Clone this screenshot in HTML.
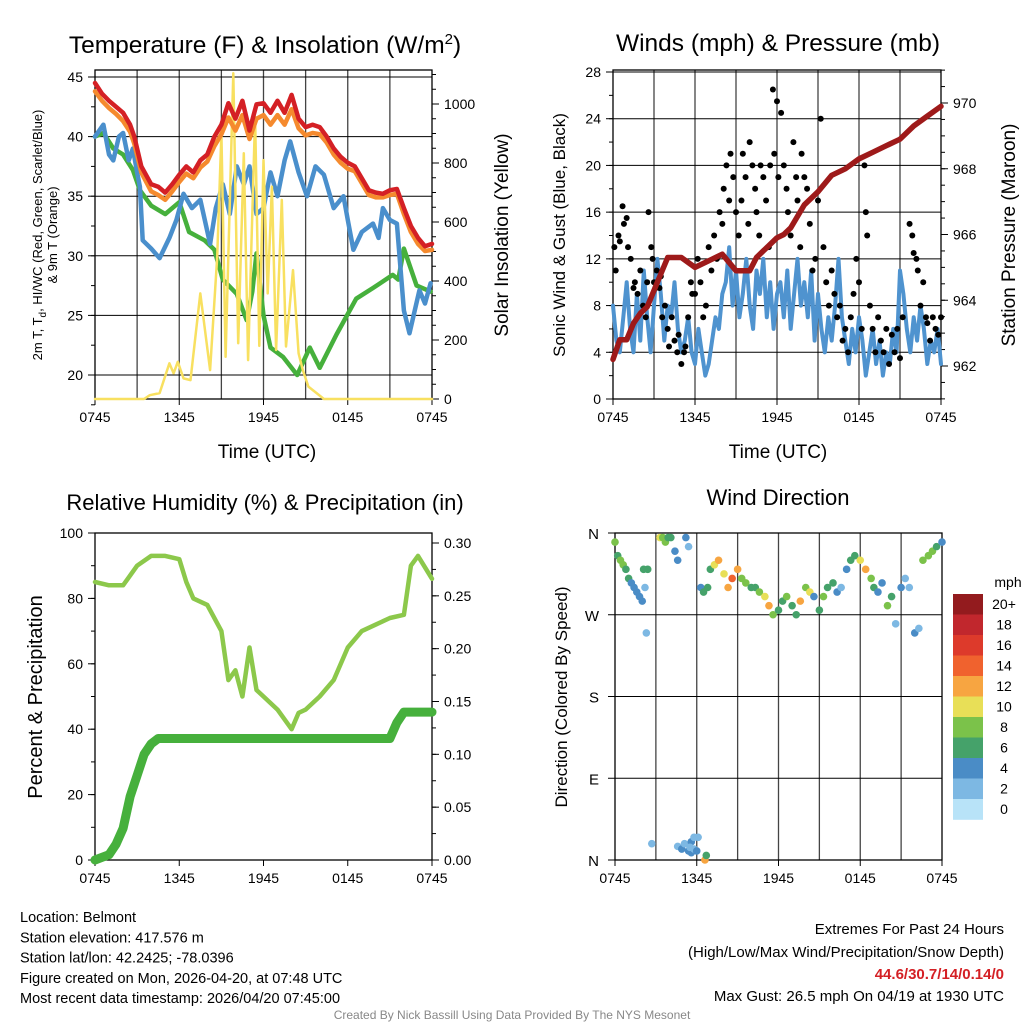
<!DOCTYPE html>
<html><head><meta charset="utf-8"><style>
body{margin:0;background:#fff}
svg{display:block;font-family:"Liberation Sans",sans-serif}
</style></head><body>
<svg id="s" width="1024" height="1024" viewBox="0 0 1024 1024"></svg>
<script>
// ---------- DATA ----------
const tH = [0,0.5,1,1.5,2,2.5,2.8,3.3,4,4.5,5,5.5,6,6.5,7,7.5,8,8.5,9,9.5,10,10.5,11,11.5,12,12.5,13,13.5,14,14.5,15,15.5,16,16.5,17,17.5,18,18.5,19,19.5,20,20.5,21,21.5,22,22.5,23,23.5,24];
const tempRed = [44.5,43.6,43,42.5,42,41,40,37.5,36,35.8,35.3,36,36.8,37.5,37,38,38.5,40,41,42.8,41.5,43,40.5,42.7,42.8,42,43,42,43.5,41.5,40.8,41,40.8,40,39,38.3,37.8,37.5,36.5,35.5,35.3,35.2,35.5,35.6,34,32.5,31.5,30.8,31];
const temp9m = [43.8,43,42.4,41.9,41.3,40.4,39.4,37,35.4,35.1,34.7,35.4,36.2,36.9,36.5,37.4,37.9,39.2,40.2,41.6,40.5,41.8,39.8,41.5,41.8,41,41.8,41,42.3,40.7,40.1,40.3,40.2,39.5,38.5,37.8,37.3,37.1,36.1,35.1,34.9,34.9,35.1,35.2,33.5,32,31,30.4,30.5];
const hiH = [0,0.6,1,1.3,1.7,2,2.4,2.7,3,3.2,3.4,4,4.6,5.3,5.8,6.3,6.9,7.5,8.2,8.6,9.1,9.6,10.1,10.6,11,11.5,12,12.5,13,13.5,13.9,14.5,15.1,15.7,16.3,17,17.7,18,18.4,19,19.8,20.2,20.5,21,21.5,22,22.4,23.1,23.5,23.9];
const heatIdx = [40,41,38.5,38,40,40.3,38,39,37,35.8,31.3,30.6,29.8,31.5,33,35.2,34,34.7,31,34,36,33.5,37.5,36,37.5,33.5,34,37,35,38,39.6,37,35,37.5,36.8,34,35,33,30.5,32,32.7,31.5,34,33,32.7,25.4,23.5,27.1,26,27.7];
const dpH = [0,0.6,1.3,2,2.7,3.2,4,5,6,6.7,7.8,8.5,9.1,10.1,10.8,11.2,11.5,12,12.5,13.4,14.4,15.3,16,17.2,18.6,19.8,21.2,21.6,22,22.9,23.9];
const dewPt = [40,40.3,39,38.5,37.2,35.5,34.2,33.5,34.5,32,31.3,30.5,28,26.8,24.6,27,30.2,25,22.3,21.5,20,22.3,20.6,23.4,26.4,27.3,28.4,28,30.6,27.5,27];
const solarH = [0,3.5,3.9,4.6,5.3,5.6,5.9,6.3,6.8,7.5,8.2,8.7,9.0,9.3,9.85,10.2,10.6,10.9,11.4,11.7,12,12.3,12.6,12.9,13.3,13.6,14.1,14.5,14.8,15.2,15.8,16.3,24];
const solar = [0,0,13,20,121,87,126,70,64,358,98,482,900,143,1104,189,833,132,957,180,810,358,720,166,675,178,437,155,98,42,19,0,0];
const windSpd = [8,5,4,7,10,6,4,9,5,11,7,4,8,12,9,5,8,7,10,6,4,5,7,4,3,6,4,2,3,5,7,6,9,10,13,8,11,7,9,12,8,6,11,9,12,7,10,6,9,10,7,11,6,9,12,8,10,7,11,5,9,6,4,7,5,8,12,7,5,3,6,4,7,5,2,4,6,3,5,2,4,3,6,4,11,9,6,4,7,5,8,6,3,5,4,6,3];
const windH = windSpd.map((v,i)=>i*0.25);
const gustH = [0.1,0.2,0.4,0.5,0.7,0.8,1,1.1,1.3,1.5,1.6,1.8,2,2.2,2.4,2.5,2.6,2.8,2.9,3,3.1,3.2,3.4,3.5,3.6,3.8,4,4.1,4.3,4.5,4.7,4.8,5,5.2,5.3,5.5,5.7,5.8,6,6.2,6.4,6.6,6.8,7,7.2,7.4,7.6,7.8,8,8.1,8.3,8.5,8.6,8.8,9,9.2,9.4,9.5,9.7,9.9,10,10.2,10.4,10.5,10.7,10.8,11,11.2,11.4,11.5,11.7,11.8,12,12.1,12.3,12.5,12.7,12.8,13,13.2,13.4,13.5,13.7,13.8,14,14.2,14.4,14.6,14.8,15,15.2,15.4,15.6,15.8,16,16.2,16.4,16.6,16.8,17,17.2,17.4,17.6,17.8,18,18.2,18.4,18.5,18.6,18.8,19,19.2,19.4,19.6,19.8,20,20.2,20.4,20.6,20.8,21,21.2,21.7,21.9,22,22.2,22.3,22.5,22.7,22.9,23,23.2,23.4,23.6,23.8,24];
const gust = [13,11,14,13.5,16.5,15,15.5,13,12,9.5,10,9,11,8,7,10,16,13,12,10,9.5,11,9.5,10.5,7,8,6,4.5,7,5,4,5.5,3,4,4.5,7,10,9,9,12,10,7,8,13,11,14,12,16,15,18,20,17,21,19,16,14,17,21,19,15,22,20,18,16,14,20,19,17,13,20,26.5,21,25.5,19,24.5,20,18,16,14,22,19,17,13,21,19,18,15,11,12,17,24,13,10,8,11,9,7,8,5,6,4,7,9,12,10,6,20,16,14,8,6,4,7,5,4,6,3,5.5,4,6,3.5,7,15,14,12.5,12,11,8,10,7,6.5,5,7,6,5.5,7];
const presH = [0,0.5,1,1.5,2,2.5,3,3.5,4,5,6,7,8,9,10,10.5,11,12,12.5,13,14,15,16,17,18,19,20,21,22,23,24];
const pres = [962.2,962.8,962.8,963.3,963.6,963.8,964.3,964.8,965.3,965.3,965.0,965.2,965.4,964.9,964.9,965.3,965.5,965.9,966.0,966.2,966.9,967.3,967.8,968.0,968.3,968.5,968.7,968.9,969.3,969.6,969.9];
const rhH = [0,1,2,3,4,5,6,6.5,7,8,9,9.5,10,10.5,11,11.5,12,13,14,14.5,15,16,17,18,19,20,21,22,22.5,23,24];
const rh = [85,84,84,90,93,93,92,85,80,78,70,55,58,50,65,52,50,46,40,45,46,50,55,65,70,72,74,75,90,93,86];
const prH = [0,1,1.5,2,2.5,3,3.5,4,4.5,21,21.5,22,24];
const precip = [0,0.005,0.015,0.03,0.06,0.08,0.1,0.11,0.115,0.115,0.13,0.14,0.14];
const dirH = [0,0.2,0.4,0.6,0.8,1,1.2,1.4,1.6,1.8,2,2.2,2.4,3.3,3.5,3.7,3.9,4.1,4.4,4.6,4.6,4.9,5.1,5.4,5.6,5.8,6.1,6.3,6.5,6.8,7,7.3,7.6,8,8.3,8.6,9,9.3,9.6,10,10.3,10.6,11,11.3,11.6,12,12.3,12.6,13,13.3,13.6,14,14.3,14.6,15,15.3,15.6,16,16.3,16.6,17,17.3,17.6,18,18.4,18.8,19,19.3,19.6,20,20.3,20.6,21,21.3,21.6,22,22.3,22.6,23,23.3,23.6,24,5.2,5.4,5.6,5.8,6.0,2.7,5.5,6.6,6.7,2.1,2.3];
const dirV = [350,335,330,325,320,310,305,300,295,290,285,300,320,355,355,350,355,355,340,330,15,12,18,10,20,25,25,300,295,300,320,325,330,315,300,310,320,310,305,300,300,295,290,280,270,275,285,290,280,270,285,300,295,290,275,290,300,305,295,300,320,330,335,330,320,310,300,295,305,280,290,260,300,310,300,250,255,330,335,340,345,350,355,345,8,12,10,18,14,0,5,320,250,275,262];
const dirS = [8,7,8,9,7,6,5,4,4,5,4,3,6,10,9,8,7,6,4,5,3,4,3,5,4,2,2,4,6,7,6,10,12,11,13,15,12,9,8,7,6,8,11,12,9,6,7,8,6,7,12,9,10,4,6,8,7,6,5,3,4,6,7,10,12,8,6,4,5,9,6,3,4,2,3,4,3,8,9,8,7,5,4,3,4,3,4,3,2,12,7,6,2,3,4];
const cbarLabels = ["20+","18","16","14","12","10","8","6","4","2","0"];
const cbarColors = ["#931b1e","#c1272d","#dd3a2b","#f0622e","#f7a541","#e8df57","#7bc24a","#45a26a","#4a8cc6","#7db8e3","#b8e3f8"];

// ---------- HELPERS ----------
const s = document.getElementById('s');
const NS = 'http://www.w3.org/2000/svg';
function mk(tag, attrs, parent, txt){ const e=document.createElementNS(NS,tag); for(const k in attrs) e.setAttribute(k,attrs[k]); if(txt!==undefined) e.textContent=txt; (parent||s).appendChild(e); return e; }
function lin(d0,d1,r0,r1){ return v => r0+(v-d0)*(r1-r0)/(d1-d0); }
function path(xs,ys,fx,fy){ return xs.map((h,i)=>(i?'L':'M')+fx(h).toFixed(1)+','+fy(ys[i]).toFixed(1)).join(''); }
function txt(x,y,t,size,anchor,name,extra){ const e=mk('text',Object.assign({x:x,y:y,'font-size':size,'text-anchor':anchor||'middle',fill:'#000'},extra||{}),s,t);   return e; }
function ticks(x,vals,f,len,side){ vals.forEach(v=>{ const y=f(v); mk('line',{x1:x,x2:x+side*len,y1:y,y2:y,stroke:'#000','stroke-width':1}); }); }
function range(a,b,st){ const r=[]; for(let v=a;v<=b+1e-9;v+=st) r.push(+v.toFixed(4)); return r; }
const xTicks = ["0745","1345","1945","0145","0745"];
function frame(x0,x1,y0,y1,name,hLines){
  const g=mk('g',{});  
  for(let i=1;i<8;i++){ const x=x0+(x1-x0)*i/8; mk('line',{x1:x,x2:x,y1:y0,y2:y1,stroke:'#444','stroke-width':1.3},g); }
  hLines.forEach(y=>mk('line',{x1:x0,x2:x1,y1:y,y2:y,stroke:'#000','stroke-width':1},g));
  mk('rect',{x:x0,y:y0,width:x1-x0,height:y1-y0,fill:'none',stroke:'#000','stroke-width':1.3},g);
  xTicks.forEach((t,i)=>{ const x=x0+(x1-x0)*i/4; mk('line',{x1:x,x2:x,y1:y1,y2:y1+6,stroke:'#000'},g); txt(x,y1+23,t,14,'middle','x-tick-label'); });
  return g;
}
function line(xs,ys,fx,fy,color,w,name){ const p=mk('path',{d:path(xs,ys,fx,fy),fill:'none',stroke:color,'stroke-width':w,'stroke-linejoin':'round','stroke-linecap':'round'});   }

// ---------- PANEL 1: temperature ----------
{
 const X0=95,X1=432,Y0=70,Y1=399;
 const fx=lin(0,24,X0,X1), fy=lin(20,45,375,77), fs=lin(0,1000,399,104);
 frame(X0,X1,Y0,Y1,'temperature-panel',[20,25,30,35,40,45].map(fy));
 ticks(X0,range(17.5,45,2.5),fy,4,-1); ticks(X1,range(0,1100,50),fs,4,1);
 [20,25,30,35,40,45].forEach(v=>{ mk('line',{x1:X0-7,x2:X0,y1:fy(v),y2:fy(v),stroke:'#000'}); txt(X0-12,fy(v)+5,String(v),14,'end','left-tick-label'); });
 [0,200,400,600,800,1000].forEach(v=>{ mk('line',{x1:X1,x2:X1+7,y1:fs(v),y2:fs(v),stroke:'#000'}); txt(X1+12,fs(v)+5,String(v),14,'start','right-tick-label'); });
 line(dpH,dewPt,fx,fy,'#46b03c',4.5,'dewpoint-line');
 line(hiH,heatIdx,fx,fy,'#4a8fcc',4.5,'windchill-line');
 line(solarH,solar,fx,fs,'#f8e060',2.5,'solar-line');
 line(tH,temp9m,fx,fy,'#f58a2e',4.5,'temp-9m-line');
 line(tH,tempRed,fx,fy,'#d42025',4.5,'temp-2m-line');
 const t=txt(265,53,'',24.5,'middle','temperature-title'); t.innerHTML='Temperature (F) &amp; Insolation (W/m<tspan dy="-9" font-size="15">2</tspan><tspan dy="9">)</tspan>';
 txt(267,458,'Time (UTC)',19,'middle','x-axis-title');
 const y1=txt(0,0,'',13,'middle','left-axis-title',{transform:'translate(42,235) rotate(-90)'}); y1.innerHTML='2m T, T<tspan dy="4" font-size="10">d</tspan><tspan dy="-4">, HI/WC (Red, Green, Scarlet/Blue)</tspan>';
 txt(0,0,'& 9m T (Orange)',13,'middle','left-axis-title-2',{transform:'translate(57,235) rotate(-90)'});
 txt(0,0,'Solar Insolation (Yellow)',19,'middle','right-axis-title',{transform:'translate(508,235) rotate(-90)'});
}
// ---------- PANEL 2: winds ----------
{
 const X0=613,X1=941,Y0=70,Y1=399;
 const fx=lin(0,24,X0,X1), fy=lin(0,28,399,72), fp=lin(962,970,366,103);
 frame(X0,X1,Y0,Y1,'winds-panel',[4,8,12,16,20,24,28].map(fy));
 ticks(X0,range(0,28,2),fy,4,-1); ticks(X1,range(961,971,0.5).filter(v=>fp(v)>=Y0&&fp(v)<=Y1),fp,4,1);
 [0,4,8,12,16,20,24,28].forEach(v=>{ mk('line',{x1:X0-7,x2:X0,y1:fy(v),y2:fy(v),stroke:'#000'}); txt(X0-12,fy(v)+5,String(v),14,'end','left-tick-label'); });
 [962,964,966,968,970].forEach(v=>{ mk('line',{x1:X1,x2:X1+7,y1:fp(v),y2:fp(v),stroke:'#000'}); txt(X1+12,fp(v)+5,String(v),14,'start','right-tick-label'); });
 line(windH,windSpd,fx,fy,'#4f93cf',4,'wind-speed-line');
 gustH.forEach((h,i)=>{ const c=mk('circle',{cx:fx(h),cy:fy(gust[i]),r:3,fill:'#000'});   });
 line(presH,pres,fx,fp,'#9e1a1a',5.5,'pressure-line');
 txt(778,51,'Winds (mph) & Pressure (mb)',24.5,'middle','winds-title');
 txt(778,458,'Time (UTC)',19,'middle','x-axis-title');
 txt(0,0,'Sonic Wind & Gust (Blue, Black)',17,'middle','left-axis-title',{transform:'translate(565,235) rotate(-90)'});
 txt(0,0,'Station Pressure (Maroon)',19,'middle','right-axis-title',{transform:'translate(1015,235) rotate(-90)'});
}
// ---------- PANEL 3: humidity ----------
{
 const X0=95,X1=432,Y0=533,Y1=860;
 const fx=lin(0,24,X0,X1), fy=lin(0,100,860,533), fr=lin(0,0.3,860,543);
 const g=mk('g',{});  
 mk('rect',{x:X0,y:Y0,width:X1-X0,height:Y1-Y0,fill:'none',stroke:'#000','stroke-width':1.3},g);
 xTicks.forEach((t,i)=>{ const x=X0+(X1-X0)*i/4; mk('line',{x1:x,x2:x,y1:Y1,y2:Y1+6,stroke:'#000'},g); txt(x,Y1+23,t,14,'middle','x-tick-label'); });
 ticks(X0,range(0,100,10),fy,4,-1); ticks(X1,range(0,0.3,0.025),fr,4,1);
 [0,20,40,60,80,100].forEach(v=>{ mk('line',{x1:X0-7,x2:X0,y1:fy(v),y2:fy(v),stroke:'#000'}); txt(X0-12,fy(v)+5,String(v),14,'end','left-tick-label'); });
 [0,0.05,0.1,0.15,0.2,0.25,0.3].forEach(v=>{ mk('line',{x1:X1,x2:X1+7,y1:fr(v),y2:fr(v),stroke:'#000'}); txt(X1+12,fr(v)+5,v.toFixed(2),14,'start','right-tick-label'); });
 line(rhH,rh,fx,fy,'#8cc84b',4.5,'humidity-line');
 line(prH,precip,fx,fr,'#46b03c',9,'precipitation-line');
 txt(265,510,'Relative Humidity (%) & Precipitation (in)',22,'middle','humidity-title');
 txt(0,0,'Percent & Precipitation',20,'middle','left-axis-title',{transform:'translate(42,697) rotate(-90)'});
}
// ---------- PANEL 4: wind direction ----------
{
 const X0=615,X1=942,Y0=533,Y1=860;
 const fx=lin(0,24,X0,X1), fy=lin(0,360,860,533);
 frame(X0,X1,Y0,Y1,'wind-direction-panel',[90,180,270].map(fy));
 ['N','E','S','W','N'].forEach((t,i)=>{ const v=i*90; mk('line',{x1:X0-7,x2:X0,y1:fy(v),y2:fy(v),stroke:'#000'}); txt(X0-16,fy(v)+6,t,15,'end','direction-tick-label'); });
 function col(sp){ const i=Math.max(0,Math.min(10,Math.floor(sp/2))); return cbarColors[10-i]; }
 dirH.forEach((h,i)=>{ const c=mk('circle',{cx:fx(h),cy:fy(dirV[i]),r:3.8,fill:col(dirS[i])});   });
 txt(778,505,'Wind Direction',22,'middle','wind-direction-title');
 txt(0,0,'Direction (Colored By Speed)',17,'middle','left-axis-title',{transform:'translate(567,697) rotate(-90)'});
 const g=mk('g',{});  
 cbarLabels.forEach((l,i)=>{ mk('rect',{x:953,y:594+i*20.5,width:30,height:20.8,fill:cbarColors[i]},g); txt(1004,609+i*20.5,l,14,'middle','colorbar-label'); });
 txt(1008,587,'mph',14,'middle','colorbar-title');
}
// ---------- FOOTER ----------
['Location: Belmont','Station elevation: 417.576 m','Station lat/lon: 42.2425; -78.0396','Figure created on Mon, 2026-04-20, at 07:48 UTC','Most recent data timestamp: 2026/04/20 07:45:00'].forEach((t,i)=>txt(20,922+i*20.3,t,14.5,'start','station-info-line'));
txt(1004,934,'Extremes For Past 24 Hours',15,'end','extremes-heading');
txt(1004,957,'(High/Low/Max Wind/Precipitation/Snow Depth)',15,'end','extremes-subheading');
txt(1004,979,'44.6/30.7/14/0.14/0',15,'end','extremes-values',{fill:'#d42025','font-weight':'bold'});
txt(1004,1001,'Max Gust: 26.5 mph On 04/19 at 1930 UTC',15,'end','max-gust-text');
txt(512,1019,'Created By Nick Bassill Using Data Provided By The NYS Mesonet',12,'middle','credit-text',{fill:'#888'});
</script>
</body></html>
